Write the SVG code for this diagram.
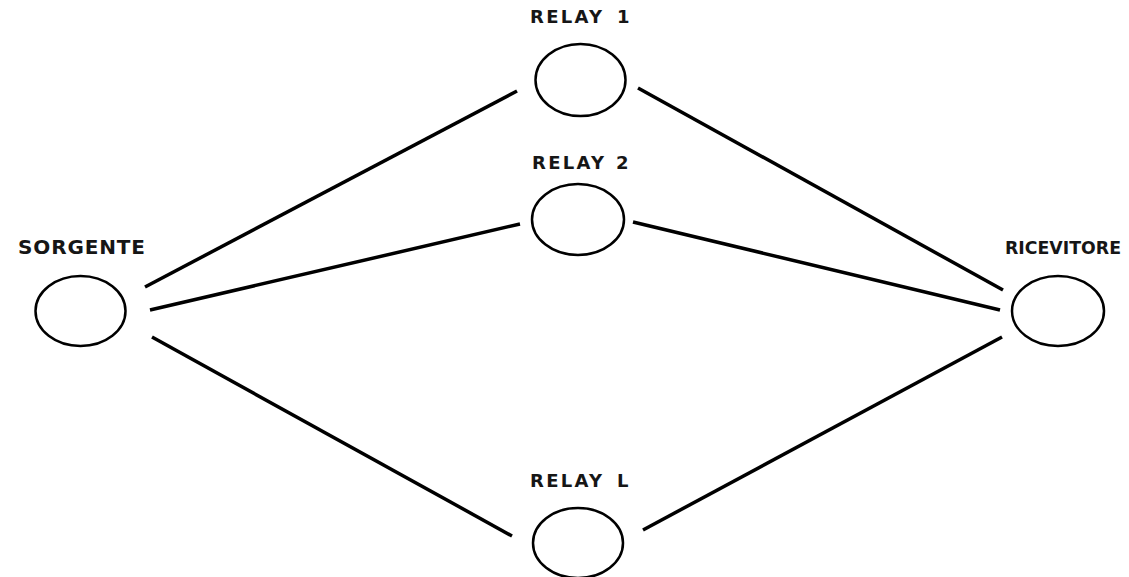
<svg xmlns="http://www.w3.org/2000/svg" width="1129" height="577" viewBox="0 0 1129 577">
  <style>
    .node { fill: none; stroke: #000; stroke-width: 2.5; }
    .link { stroke: #000; stroke-width: 3.5; stroke-linecap: butt; }
    .label { font-family: "DejaVu Sans", Verdana, sans-serif; font-weight: bold; fill: #161616; }
    .big { font-size: 20px; }
    .small { font-size: 18px; }
  </style>
  <rect width="1129" height="577" fill="#fff"/>

  <!-- connections between source, relays and receiver -->
  <g id="connectors">
    <line class="link" x1="145" y1="287" x2="517" y2="91"/>
    <line class="link" x1="150" y1="310" x2="520" y2="224"/>
    <line class="link" x1="152" y1="337" x2="512" y2="536"/>
    <line class="link" x1="638" y1="88" x2="1003" y2="290"/>
    <line class="link" x1="633" y1="222" x2="1000" y2="310"/>
    <line class="link" x1="643" y1="530" x2="1002" y2="337"/>
  </g>

  <g id="sorgente">
    <ellipse class="node" cx="80.5" cy="311" rx="45" ry="35"/>
    <text class="label big" x="18" y="254" textLength="127">SORGENTE</text>
  </g>

  <g id="relay1">
    <ellipse class="node" cx="580.5" cy="80" rx="45" ry="36"/>
    <text class="label small" y="23"><tspan x="530" textLength="72">RELAY</tspan> <tspan x="617">1</tspan></text>
  </g>

  <g id="relay2">
    <ellipse class="node" cx="578" cy="219.5" rx="46" ry="35.5"/>
    <text class="label small" y="169"><tspan x="532" textLength="72">RELAY</tspan> <tspan x="616">2</tspan></text>
  </g>

  <g id="relayL">
    <ellipse class="node" cx="578" cy="543" rx="45" ry="35"/>
    <text class="label small" y="487"><tspan x="530" textLength="72">RELAY</tspan> <tspan x="617">L</tspan></text>
  </g>

  <g id="ricevitore">
    <ellipse class="node" cx="1058" cy="311" rx="46" ry="35"/>
    <text class="label" x="1121" y="254" text-anchor="end" font-size="18" textLength="116" lengthAdjust="spacingAndGlyphs">RICEVITORE</text>
  </g>
</svg>
